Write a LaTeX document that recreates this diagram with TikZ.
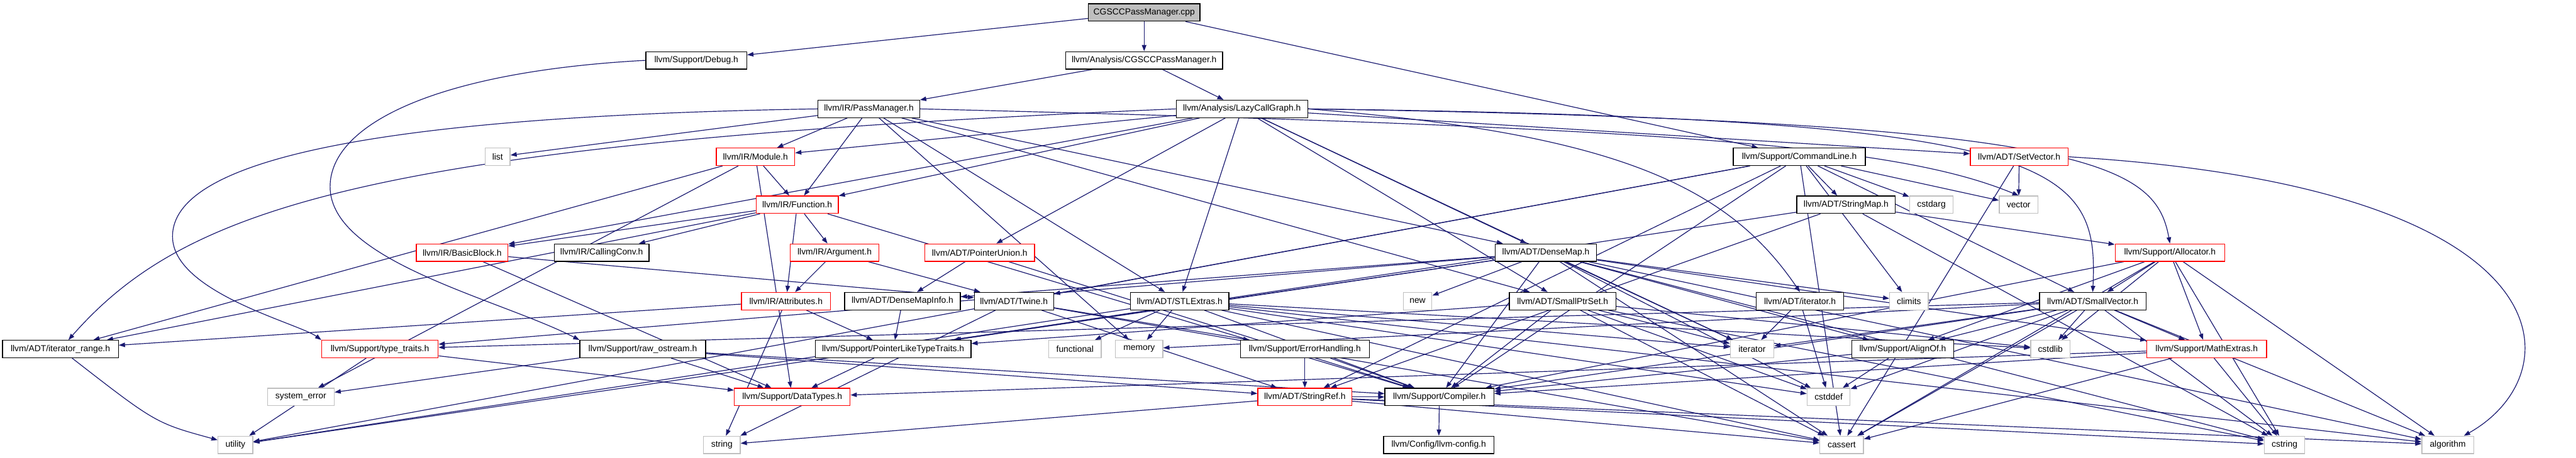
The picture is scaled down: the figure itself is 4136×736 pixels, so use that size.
\documentclass[tikz,border=0pt]{standalone}
\usepackage{fontspec}
\setmainfont{Liberation Sans}
\usetikzlibrary{arrows.meta}
\definecolor{edgec}{HTML}{191970}
\definecolor{grayb}{HTML}{BFBFBF}
\pgfdeclarelayer{bg}
\pgfdeclarelayer{edges}
\pgfsetlayers{bg,edges,main}
\tikzset{
  box/.style={draw=black, line width=0.65pt, fill=white, inner sep=0pt, minimum height=14pt, font=\fontsize{7}{8}\selectfont, text=black},
  redbox/.style={box, draw=red},
  sysbox/.style={box, draw=grayb},
  rootbox/.style={box, fill=grayb},
  edge/.style={draw=edgec, line width=0.6pt, -{Triangle[length=5pt,width=3.6pt]}},
}
\newcommand{\nd}[6]{\node[#2, minimum width=#5*0.5pt] (#1) at (#3,#4) {#6};}
\begin{document}
\begin{tikzpicture}[x=0.5pt,y=-0.5pt]
\begin{pgfonlayer}{bg}
\fill[white] (0,0) rectangle (4136,736);
\end{pgfonlayer}
\useasboundingbox (0,0) rectangle (4136,736);
% row 1
\nd{root}{rootbox}{1837}{20}{179}{CGSCCPassManager.cpp}
% row 2
\nd{debug}{box}{1118}{97}{162}{llvm/Support/Debug.h}
\nd{cgsccH}{box}{1837}{97}{252}{llvm/Analysis/CGSCCPassManager.h}
% row 3
\nd{passmgr}{box}{1395}{175}{163}{llvm/IR/PassManager.h}
\nd{lcg}{box}{1994}{175}{211}{llvm/Analysis/LazyCallGraph.h}
% row 4
\nd{list}{sysbox}{799}{252}{40}{list}
\nd{module}{redbox}{1213}{252}{126}{llvm/IR/Module.h}
\nd{cmdline}{box}{2889}{252}{212}{llvm/Support/CommandLine.h}
\nd{setvector}{redbox}{3242}{252}{157}{llvm/ADT/SetVector.h}
% row 5
\nd{function}{redbox}{1280}{329}{132}{llvm/IR/Function.h}
\nd{stringmap}{box}{2964}{329}{158}{llvm/ADT/StringMap.h}
\nd{cstdarg}{sysbox}{3101}{329}{70}{cstdarg}
\nd{vector}{sysbox}{3241}{329}{62}{vector}
% row 6
\nd{basicblock}{redbox}{742}{406}{147}{llvm/IR/BasicBlock.h}
\nd{callingconv}{box}{966}{406}{152}{llvm/IR/CallingConv.h}
\nd{argument}{redbox}{1340}{406}{142}{llvm/IR/Argument.h}
\nd{pointerunion}{redbox}{1573}{406}{176}{llvm/ADT/PointerUnion.h}
\nd{densemap}{box}{2482}{406}{163}{llvm/ADT/DenseMap.h}
\nd{allocator}{redbox}{3484}{406}{176}{llvm/Support/Allocator.h}
% row 7
\nd{attributes}{redbox}{1262}{484}{143}{llvm/IR/Attributes.h}
\nd{densemapinfo}{box}{1449}{484}{186}{llvm/ADT/DenseMapInfo.h}
\nd{twine}{box}{1628}{484}{127}{llvm/ADT/Twine.h}
\nd{stlextras}{box}{1894}{484}{158}{llvm/ADT/STLExtras.h}
\nd{new}{sysbox}{2276}{484}{46}{new}
\nd{smallptrset}{box}{2509}{484}{171}{llvm/ADT/SmallPtrSet.h}
\nd{iteratorh}{box}{2890}{484}{140}{llvm/ADT/iterator.h}
\nd{climits}{sysbox}{3065}{484}{62}{climits}
\nd{smallvector}{box}{3360}{484}{171}{llvm/ADT/SmallVector.h}
% row 8
\nd{iterrange}{box}{97}{561}{186}{llvm/ADT/iterator\_range.h}
\nd{typetraits}{redbox}{610}{561}{187}{llvm/Support/type\_traits.h}
\nd{rawostream}{box}{1032}{561}{202}{llvm/Support/raw\_ostream.h}
\nd{ptrlike}{box}{1434}{561}{250}{llvm/Support/PointerLikeTypeTraits.h}
\nd{functional}{sysbox}{1726}{561}{84}{functional}
\nd{memory}{sysbox}{1829}{561}{76}{memory}
\nd{errorh}{box}{2095}{561}{207}{llvm/Support/ErrorHandling.h}
\nd{iterator}{sysbox}{2813}{561}{70}{iterator}
\nd{alignof}{box}{3055}{561}{163}{llvm/Support/AlignOf.h}
\nd{cstdlib}{sysbox}{3292}{561}{63}{cstdlib}
\nd{mathextras}{redbox}{3543}{561}{192}{llvm/Support/MathExtras.h}
% row 9
\nd{syserror}{sysbox}{483}{638}{107}{system\_error}
\nd{datatypes}{redbox}{1272}{638}{186}{llvm/Support/DataTypes.h}
\nd{stringref}{redbox}{2095}{638}{151}{llvm/ADT/StringRef.h}
\nd{compiler}{box}{2311}{638}{175}{llvm/Support/Compiler.h}
\nd{cstddef}{sysbox}{2936}{638}{69}{cstddef}
% row 10
\nd{utility}{sysbox}{378}{715}{56}{utility}
\nd{string}{sysbox}{1159}{715}{59}{string}
\nd{llvmconfig}{box}{2310}{715}{177}{llvm/Config/llvm-config.h}
\nd{cassert}{sysbox}{2957}{715}{70}{cassert}
\nd{cstring}{sysbox}{3668}{715}{65}{cstring}
\nd{algorithm}{sysbox}{3930}{715}{83}{algorithm}

\begin{pgfonlayer}{edges}
\foreach \t in {cgsccH,debug,cmdline} \draw[edge] (root) -- (\t);
\foreach \t in {passmgr,lcg} \draw[edge] (cgsccH) -- (\t);
\draw[edge] (debug.west) .. controls (700,115) and (530,200) .. (530,300) .. controls (530,420) and (800,480) .. (rawostream.north west);
\foreach \t in {list,module,function,stlextras,memory,smallptrset,densemap} \draw[edge] (passmgr) -- (\t);
\draw[edge] (passmgr.east) .. controls (2700,205) and (3050,235) .. (vector.north);
\draw[edge] (passmgr.west) .. controls (700,185) and (277,240) .. (277,380) .. controls (277,470) and (480,520) .. (typetraits.north west);
\foreach \t in {module,function,basicblock,pointerunion,stlextras,smallptrset,densemap,setvector,iterator} \draw[edge] (lcg) -- (\t);
\draw[edge] (lcg.east) .. controls (2600,215) and (2775,300) .. (iteratorh.north);
\draw[edge] (lcg.east) .. controls (3300,190) and (3370,260) .. (smallvector.north);
\draw[edge] (lcg.east) .. controls (3350,195) and (3460,260) .. (allocator.north);
\draw[edge] (lcg.west) .. controls (600,230) and (300,330) .. (iterrange);
\foreach \t in {function,iterrange,syserror,datatypes} \draw[edge] (module) -- (\t);
\foreach \t in {basicblock,callingconv,argument,attributes,iterrange,compiler} \draw[edge] (function) -- (\t);
\draw[edge] (setvector) -- (vector);
\draw[edge] (setvector) -- (cassert);
\draw[edge] (setvector.east) .. controls (4134,300) and (4134,600) .. (algorithm);
\foreach \t in {stringmap,cstdarg,vector,climits,smallvector,twine,stringref,compiler,cassert,utility} \draw[edge] (cmdline) -- (\t);
\foreach \t in {ptrlike,stringref,allocator,cstring} \draw[edge] (stringmap) -- (\t);
\foreach \t in {twine,datatypes} \draw[edge] (basicblock) -- (\t);
\foreach \t in {attributes,twine} \draw[edge] (argument) -- (\t);
\foreach \t in {densemapinfo,compiler} \draw[edge] (pointerunion) -- (\t);
\foreach \t in {densemapinfo,typetraits,ptrlike,utility,new,compiler,alignof,mathextras,climits,cstddef,cassert,cstring,algorithm,iterator} \draw[edge] (densemap) -- (\t);
\foreach \t in {smallvector,alignof,mathextras,compiler,algorithm,cassert,cstdlib,cstring} \draw[edge] (allocator) -- (\t);
\foreach \t in {iterrange,ptrlike,string} \draw[edge] (attributes) -- (\t);
\draw[edge] (densemapinfo) -- (ptrlike);
\foreach \t in {errorh,stringref,cassert,string} \draw[edge] (twine) -- (\t);
\foreach \t in {functional,memory,utility,compiler,iterator,cstddef,cstdlib,cassert,algorithm} \draw[edge] (stlextras) -- (\t);
\foreach \t in {compiler,ptrlike,cassert,cstddef,cstdlib,cstring,iterator} \draw[edge] (smallptrset) -- (\t);
\foreach \t in {iterator,cstddef} \draw[edge] (iteratorh) -- (\t);
\foreach \t in {typetraits,iterator,alignof,compiler,cstdlib,cstddef,cassert,mathextras,cstring,algorithm,memory} \draw[edge] (smallvector) -- (\t);
\draw[edge] (iterrange) .. controls (250,680) .. (utility);
\foreach \t in {utility,datatypes} \draw[edge] (typetraits) -- (\t);
\foreach \t in {datatypes,syserror,stringref,compiler} \draw[edge] (rawostream) -- (\t);
\draw[edge] (ptrlike) -- (datatypes);
\foreach \t in {stringref,compiler} \draw[edge] (errorh) -- (\t);
\foreach \t in {compiler,cstddef} \draw[edge] (alignof) -- (\t);
\foreach \t in {cstring,compiler,datatypes,cassert} \draw[edge] (mathextras) -- (\t);
\draw[edge] (compiler) -- (llvmconfig);
\foreach \t in {compiler,string,cassert,cstring,algorithm} \draw[edge] (stringref) -- (\t);
\end{pgfonlayer}
\end{tikzpicture}
\end{document}
